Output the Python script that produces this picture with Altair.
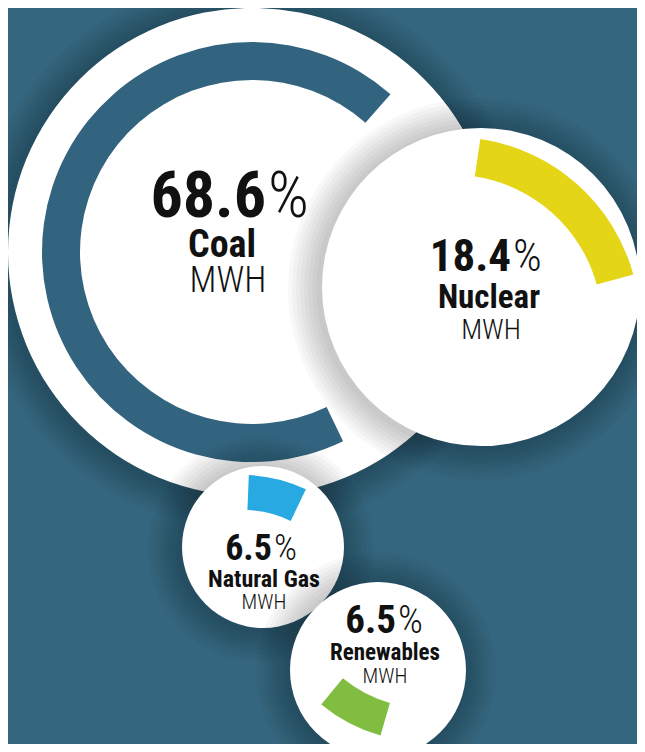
import math
import altair as alt
import pandas as pd

# ---------------- data ----------------
categories = ["Coal", "Nuclear", "Natural Gas", "Renewables"]
shares = [68.6, 18.4, 6.5, 6.5]          # percent of MWH
unit_label = "MWH"

# ---------------- styles ----------------
arc_colors = ["#33647f", "#e5d517", "#29a9e1", "#80bd41"]
bg_color = "#35667f"
text_color = "#111111"
bold_font = "Roboto Condensed, Noto Sans Condensed, Liberation Sans Narrow, Roboto, sans-serif"
thin_font = "Roboto Condensed, Noto Sans Condensed, Liberation Sans Narrow, Roboto, sans-serif"

# ---------------- layout (page pixels) ----------------
circle_x = [252, 481, 263, 378]
circle_y = [252, 287, 547, 670]
circle_r = [244, 159, 81, 88]
ring_x = [252, 453, 243, 426]
ring_y = [252, 324, 620, 577]
ring_inner = [172, 149, 110, 131]
ring_outer = [210, 187, 145, 165]
ring_start_deg = [154.3, 8.4, 2.3, 196.0]   # clockwise from 12 o'clock
num_split_x = [266, 511, 272, 396]
num_baseline = [217, 271, 560, 633]
num_size = [64, 45, 36, 39]
name_x = [222, 489, 264, 385]
name_baseline = [257, 308, 587, 660]
name_size = [38, 33, 24, 23]
unit_x = [228, 491, 264, 385]
unit_baseline = [292, 339, 609, 683]
unit_size = [36, 28, 21, 21]
shadow_steps = 8
shadow_step_px = 4
shadow_offset = (-2, 2)

W, H = 629, 736
xs = alt.Scale(domain=[8, 8 + W], nice=False, zero=False)
ys = alt.Scale(domain=[8, 8 + H], nice=False, zero=False, reverse=True)
theta_scale = alt.Scale(domain=[0, 100], range=[0, 2 * math.pi])


def sym_size(r):
    # Vega circle symbols have diameter sqrt(size)
    return (2 * r) ** 2


layers = []
for i, cat in enumerate(categories):
    # soft drop shadow
    sh = pd.DataFrame({
        "cx": [circle_x[i] + shadow_offset[0]] * shadow_steps,
        "cy": [circle_y[i] + shadow_offset[1]] * shadow_steps,
        "area": [sym_size(circle_r[i] + shadow_step_px * (k + 1)) for k in range(shadow_steps)],
    })
    layers.append(
        alt.Chart(sh).mark_circle(color="black", opacity=0.028).encode(
            x=alt.X("cx:Q", scale=xs, axis=None),
            y=alt.Y("cy:Q", scale=ys, axis=None),
            size=alt.Size("area:Q", scale=None, legend=None),
        )
    )
    # white disc
    disc = pd.DataFrame({"cat": [cat], "cx": [circle_x[i]], "cy": [circle_y[i]],
                         "area": [sym_size(circle_r[i])]})
    layers.append(
        alt.Chart(disc).mark_circle(color="white", opacity=1).encode(
            x=alt.X("cx:Q", scale=xs, axis=None),
            y=alt.Y("cy:Q", scale=ys, axis=None),
            size=alt.Size("area:Q", scale=None, legend=None),
        )
    )
    # share arc
    start_pct = ring_start_deg[i] / 3.6
    arc = pd.DataFrame({"cat": [cat], "share": [shares[i]],
                        "cx": [ring_x[i]], "cy": [ring_y[i]],
                        "t0": [start_pct], "t1": [start_pct + shares[i]],
                        "ri": [ring_inner[i]], "ro": [ring_outer[i]]})
    layers.append(
        alt.Chart(arc).mark_arc(color=arc_colors[i]).encode(
            x=alt.X("cx:Q", scale=xs, axis=None),
            y=alt.Y("cy:Q", scale=ys, axis=None),
            theta=alt.Theta("t0:Q", scale=theta_scale, stack=None),
            theta2=alt.Theta2("t1:Q"),
            radius=alt.Radius("ro:Q", scale=None),
            radius2=alt.Radius2("ri:Q"),
        )
    )
    # texts
    num = pd.DataFrame({"txt": [f"{shares[i]:.1f}"], "x": [num_split_x[i]],
                        "y": [num_baseline[i]], "fs": [num_size[i]]})
    pct = pd.DataFrame({"txt": ["%"], "x": [num_split_x[i] + 2],
                        "y": [num_baseline[i]], "fs": [num_size[i]]})
    name = pd.DataFrame({"txt": [cat], "x": [name_x[i]],
                         "y": [name_baseline[i]], "fs": [name_size[i]]})
    unit = pd.DataFrame({"txt": [unit_label], "x": [unit_x[i]],
                         "y": [unit_baseline[i]], "fs": [unit_size[i]]})
    for df, align, weight, font in [
        (num, "right", "bold", bold_font),
        (pct, "left", 300, thin_font),
        (name, "center", "bold", bold_font),
        (unit, "center", 300, thin_font),
    ]:
        layers.append(
            alt.Chart(df).mark_text(align=align, baseline="alphabetic", font=font,
                                    fontWeight=weight, color=text_color).encode(
                x=alt.X("x:Q", scale=xs, axis=None),
                y=alt.Y("y:Q", scale=ys, axis=None),
                text="txt:N",
                size=alt.Size("fs:Q", scale=None, legend=None),
            )
        )

chart = alt.layer(*layers).properties(
    width=W, height=H, padding=0, background=bg_color,
    autosize=alt.AutoSizeParams(type="none"),
).configure_view(strokeWidth=0)

chart.save("out.html", embed_options={"renderer": "svg", "actions": False})
